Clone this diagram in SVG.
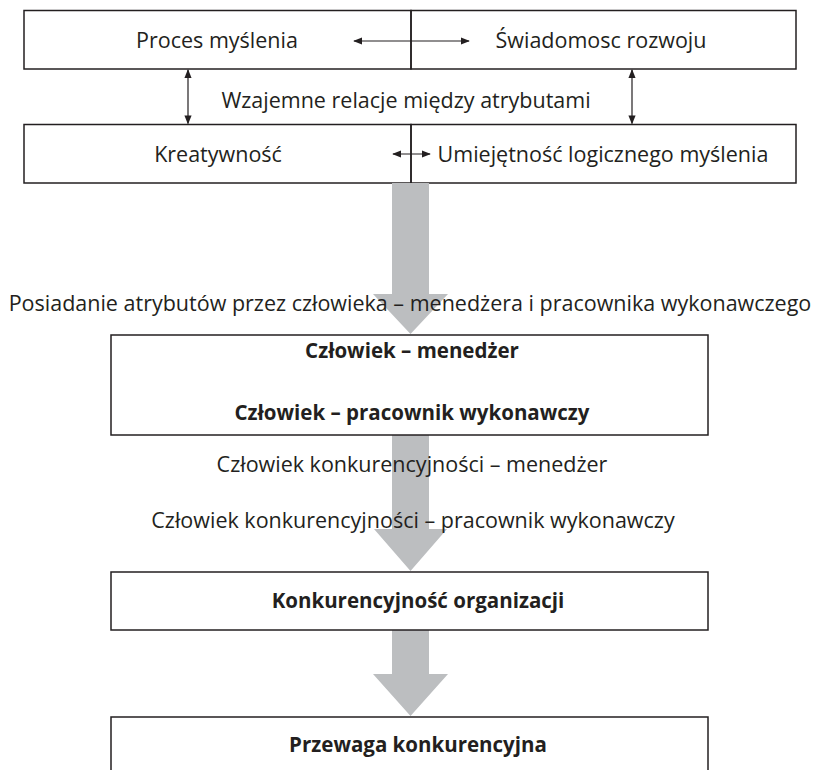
<svg xmlns="http://www.w3.org/2000/svg" width="818" height="770" viewBox="0 0 818 770">
<defs>
<style>
.box{fill:none;stroke:#231f20;stroke-width:1.5}
.t{font-family:"Open Sans","Noto Sans",sans-serif;font-size:21.5px;fill:#231f20;text-anchor:middle}
.b{font-weight:bold;font-size:20.5px}
.con{stroke:#231f20;stroke-width:1.2;fill:none;marker-start:url(#ah);marker-end:url(#ah)}
.big{fill:#bcbec0}
</style>
<marker id="ah" viewBox="0 0 10 10" refX="9" refY="5" markerWidth="9" markerHeight="9" markerUnits="userSpaceOnUse" orient="auto-start-reverse">
<path d="M0,1 L10,5 L0,9 Z" fill="#231f20"/>
</marker>
</defs>
<rect width="818" height="770" fill="#fff"/>
<g id="n-proces"><rect class="box" x="24" y="10.5" width="387" height="58.5"/><text class="t" x="217" y="48">Proces myślenia</text></g>
<g id="n-swiadomosc"><rect class="box" x="411" y="10.5" width="385" height="58.5"/><text class="t" x="601" y="48">Świadomosc rozwoju</text></g>
<g id="n-kreatywnosc"><rect class="box" x="24" y="124.5" width="387" height="58.5"/><text class="t" x="218" y="162">Kreatywność</text></g>
<g id="n-umiejetnosc"><rect class="box" x="411" y="124.5" width="385" height="58.5"/><text class="t" x="603" y="162">Umiejętność logicznego myślenia</text></g>
<g id="label-wzajemne"><text class="t" x="406" y="108">Wzajemne relacje między atrybutami</text></g>
<g id="connectors">
<line class="con" x1="354" y1="41" x2="469" y2="41"/>
<line class="con" x1="188" y1="70" x2="188" y2="123.5"/>
<line class="con" x1="632" y1="70" x2="632" y2="123.5"/>
<line class="con" x1="393" y1="154" x2="430" y2="154"/>
<path class="big" d="M392,183 H429 V294 H448 L410.5,334 L373,294 H392 Z"/>
<path class="big" d="M392,435 H429 V529 H447 L410.5,571 L374,529 H392 Z"/>
<path class="big" d="M392,630 H429 V674 H448 L410.5,716 L373,674 H392 Z"/>
</g>
<g id="label-posiadanie"><text class="t" x="410" y="311">Posiadanie atrybutów przez człowieka – menedżera i pracownika wykonawczego</text></g>
<g id="n-czlowiek"><rect class="box" x="111" y="335" width="597" height="100"/><text class="t b" x="412" y="358">Człowiek – menedżer</text><text class="t b" x="412" y="420">Człowiek – pracownik wykonawczy</text></g>
<g id="label-konk"><text class="t" x="412" y="472">Człowiek konkurencyjności – menedżer</text><text class="t" x="413" y="528">Człowiek konkurencyjności – pracownik wykonawczy</text></g>
<g id="n-organizacji"><rect class="box" x="111" y="572" width="597" height="58"/><text class="t b" x="418" y="608">Konkurencyjność organizacji</text></g>
<g id="n-przewaga"><rect class="box" x="111" y="717" width="597" height="70"/><text class="t b" x="418" y="752">Przewaga konkurencyjna</text></g>
</svg>
